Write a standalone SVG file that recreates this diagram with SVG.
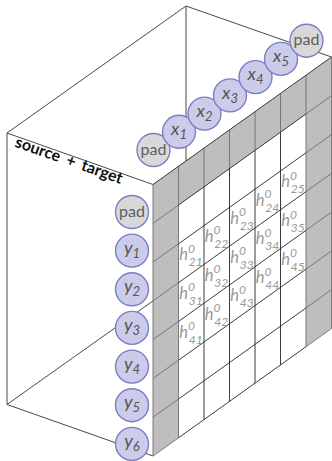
<svg xmlns="http://www.w3.org/2000/svg" width="332" height="461" viewBox="0 0 332 461">
  <style>
    .edge { fill: none; stroke: #333; stroke-width: 0.9; }
    .gl { fill: none; stroke: #6e6e6e; stroke-width: 0.9; vector-effect: non-scaling-stroke; }
    .dl { fill: none; stroke: #262626; stroke-width: 0.9; vector-effect: non-scaling-stroke; }
    .pad-cell { fill: #bebebe; stroke: none; }
    .tok { fill: #cbcbea; stroke: #7d7dc6; stroke-width: 1.4; }
    .tok-pad { fill: #d8d8d8; stroke: #7d7dc6; stroke-width: 1.4; }
    .tl { font-family: Lato, "Open Sans", sans-serif; font-style: italic; font-size: 18px; fill: #555; text-anchor: middle; }
    .tl tspan { font-size: 13px; }
    .pl { font-family: Lato, "Open Sans", sans-serif; font-size: 16px; fill: #5e5e5e; text-anchor: middle; }
    .hl { font-family: Lato, "Open Sans", sans-serif; font-style: italic; font-size: 16.5px; fill: #999; }
    .hl tspan { font-size: 12px; }
    .title { font-family: Lato, "Open Sans", sans-serif; font-weight: bold; font-size: 16px; word-spacing: 3px; fill: #111; }
  </style>

  <rect width="332" height="461" fill="#fff"/>

  <!-- hidden-side edges of the box (partly covered by the grid face) -->
  <g id="box-back">
    <path class="edge" d="M186 6V277.5"/>
    <path class="edge" d="M7 404.5L186 277.5"/>
  </g>

  <!-- visible box edges -->
  <g id="box-edges">
    <path class="edge" d="M7 133L186 6L331.5 57"/>
    <path class="edge" d="M7 133L153 184.5"/>
    <path class="edge" d="M7 133V404.5L153 456"/>
  </g>

  <!-- attention grid: 7 columns x 7 rows, in cell units -->
  <g id="grid" transform="matrix(25.5 -18.2143 0 38.7857 153 184.5)">
    <rect x="0" y="0" width="7" height="7" fill="#fff"/>
    <rect class="pad-cell" x="0" y="0" width="1" height="7"/>
    <rect class="pad-cell" x="6" y="0" width="1" height="7"/>
    <rect class="pad-cell" x="1" y="0" width="5" height="1"/>
    <path class="gl" d="M0 0V7M1 0V7M6 0V7M7 0V7M2 0V1M3 0V1M4 0V1M5 0V1
      M0 1H1M0 2H1M0 3H1M0 4H1M0 5H1M0 6H1M0 7H1
      M6 1H7M6 2H7M6 3H7M6 4H7M6 5H7M6 6H7M6 7H7"/>
    <path class="dl" d="M0 0H7M1 1H6M1 2H6M1 3H6M1 4H6M1 5H6M1 6H6M1 7H6
      M2 1V7M3 1V7M4 1V7M5 1V7"/>
  </g>

  <!-- hidden states h^0_ij -->
  <g id="h-labels">
    <text class="hl" x="179.3" y="260.1">h<tspan dy="-7.5">0</tspan><tspan x="188.8" dy="13.5">21</tspan></text>
    <text class="hl" x="204.8" y="241.9">h<tspan dy="-7.5">0</tspan><tspan x="214.3" dy="13.5">22</tspan></text>
    <text class="hl" x="230.3" y="223.7">h<tspan dy="-7.5">0</tspan><tspan x="239.8" dy="13.5">23</tspan></text>
    <text class="hl" x="255.8" y="205.5">h<tspan dy="-7.5">0</tspan><tspan x="265.3" dy="13.5">24</tspan></text>
    <text class="hl" x="281.3" y="187.3">h<tspan dy="-7.5">0</tspan><tspan x="290.8" dy="13.5">25</tspan></text>

    <text class="hl" x="179.3" y="298.9">h<tspan dy="-7.5">0</tspan><tspan x="188.8" dy="13.5">31</tspan></text>
    <text class="hl" x="204.8" y="280.7">h<tspan dy="-7.5">0</tspan><tspan x="214.3" dy="13.5">32</tspan></text>
    <text class="hl" x="230.3" y="262.5">h<tspan dy="-7.5">0</tspan><tspan x="239.8" dy="13.5">33</tspan></text>
    <text class="hl" x="255.8" y="244.3">h<tspan dy="-7.5">0</tspan><tspan x="265.3" dy="13.5">34</tspan></text>
    <text class="hl" x="281.3" y="226.1">h<tspan dy="-7.5">0</tspan><tspan x="290.8" dy="13.5">35</tspan></text>

    <text class="hl" x="179.3" y="337.7">h<tspan dy="-7.5">0</tspan><tspan x="188.8" dy="13.5">41</tspan></text>
    <text class="hl" x="204.8" y="319.5">h<tspan dy="-7.5">0</tspan><tspan x="214.3" dy="13.5">42</tspan></text>
    <text class="hl" x="230.3" y="301.3">h<tspan dy="-7.5">0</tspan><tspan x="239.8" dy="13.5">43</tspan></text>
    <text class="hl" x="255.8" y="283.1">h<tspan dy="-7.5">0</tspan><tspan x="265.3" dy="13.5">44</tspan></text>
    <text class="hl" x="281.3" y="264.9">h<tspan dy="-7.5">0</tspan><tspan x="290.8" dy="13.5">45</tspan></text>
  </g>

  <!-- face label -->
  <text class="title" transform="translate(14 146.5) rotate(19.4)">source + target</text>

  <!-- source tokens along the top edge -->
  <g id="x-pad-start"><circle class="tok-pad" cx="153.5" cy="150" r="16.5"/><text class="pl" x="153.5" y="154.5">pad</text></g>
  <g id="x1"><circle class="tok" cx="179" cy="131.8" r="16.5"/><text class="tl" x="179" y="135">x<tspan dy="4">1</tspan></text></g>
  <g id="x2"><circle class="tok" cx="204.5" cy="113.6" r="16.5"/><text class="tl" x="204.5" y="116.8">x<tspan dy="4">2</tspan></text></g>
  <g id="x3"><circle class="tok" cx="230" cy="95.4" r="16.5"/><text class="tl" x="230" y="98.6">x<tspan dy="4">3</tspan></text></g>
  <g id="x4"><circle class="tok" cx="255.5" cy="77.1" r="16.5"/><text class="tl" x="255.5" y="80.3">x<tspan dy="4">4</tspan></text></g>
  <g id="x5"><circle class="tok" cx="281" cy="58.9" r="16.5"/><text class="tl" x="281" y="62.1">x<tspan dy="4">5</tspan></text></g>
  <g id="x-pad-end"><circle class="tok-pad" cx="306.5" cy="40.7" r="16.5"/><text class="pl" x="306.5" y="45.2">pad</text></g>

  <!-- target tokens down the left edge -->
  <g id="y-pad"><circle class="tok-pad" cx="132" cy="212" r="16.5"/><text class="pl" x="132" y="216.5">pad</text></g>
  <g id="y1"><circle class="tok" cx="132" cy="250.6" r="16.5"/><text class="tl" x="132" y="253.6">y<tspan dy="4">1</tspan></text></g>
  <g id="y2"><circle class="tok" cx="132" cy="289.3" r="16.5"/><text class="tl" x="132" y="292.3">y<tspan dy="4">2</tspan></text></g>
  <g id="y3"><circle class="tok" cx="132" cy="327.9" r="16.5"/><text class="tl" x="132" y="330.9">y<tspan dy="4">3</tspan></text></g>
  <g id="y4"><circle class="tok" cx="132" cy="366.6" r="16.5"/><text class="tl" x="132" y="369.6">y<tspan dy="4">4</tspan></text></g>
  <g id="y5"><circle class="tok" cx="132" cy="405.2" r="16.5"/><text class="tl" x="132" y="408.2">y<tspan dy="4">5</tspan></text></g>
  <g id="y6"><circle class="tok" cx="132" cy="443.9" r="16.5"/><text class="tl" x="132" y="446.9">y<tspan dy="4">6</tspan></text></g>
</svg>
